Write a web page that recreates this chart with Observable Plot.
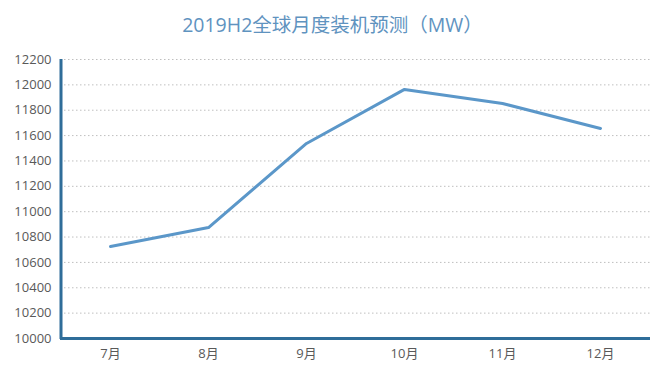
<!DOCTYPE html>
<html><head><meta charset="utf-8">
<script src="https://cdn.jsdelivr.net/npm/d3@7"></script>
<script src="https://cdn.jsdelivr.net/npm/@observablehq/plot@0.6"></script>
<style>
body{margin:0;background:#fff;font-family:"Open Sans","Noto Sans CJK SC",sans-serif;}
#title{height:48px;line-height:50px;text-align:center;font-size:19.5px;color:#5f93bf;font-family:"Open Sans","Noto Sans CJK SC",sans-serif;}
</style></head>
<body>
<div id="title">2019H2全球月度装机预测（MW）</div>
<div id="chart"></div>
<script>
const months = ["7月","8月","9月","10月","11月","12月"];
const values = [10725, 10875, 11538, 11964, 11853, 11656];
const yTicks = [10000,10200,10400,10600,10800,11000,11200,11400,11600,11800,12000,12200];
const data = months.map((m,i)=>({month:m, value:values[i]}));
const chart = Plot.plot({
  width:665, height:321,
  marginLeft:60, marginRight:15, marginTop:11, marginBottom:31,
  style:{fontFamily:'"Open Sans","Noto Sans CJK SC",sans-serif', fontSize:"13px", color:"#595959"},
  x:{type:"point", domain:months, padding:0.5, label:null},
  y:{domain:[10000,12200], label:null},
  marks:[
    Plot.gridY(yTicks.filter(d=>d>10000), {stroke:"#bfbfbf", strokeOpacity:1, strokeDasharray:"1.5,2.5", strokeWidth:1}),
    Plot.axisY({ticks:yTicks, tickFormat:d=>String(d), tickSize:0, tickPadding:9, label:null, fill:"#595959"}),
    Plot.axisX({tickSize:0, tickPadding:10, label:null, fill:"#595959"}),
    Plot.ruleY([10000], {stroke:"#2f6d99", strokeWidth:3}),
    Plot.line(data, {x:"month", y:"value", stroke:"#5b97c9", strokeWidth:3})
  ]
});
document.getElementById("chart").appendChild(chart);
const svg = d3.select(chart);
svg.append("line").attr("x1",61).attr("x2",61).attr("y1",11).attr("y2",291).attr("stroke","#2f6d99").attr("stroke-width",3);
</script>
</body></html>
